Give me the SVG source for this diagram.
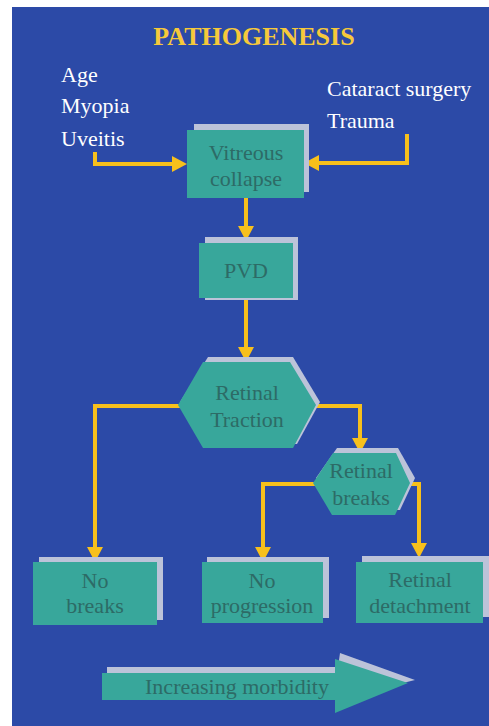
<svg xmlns="http://www.w3.org/2000/svg" width="489" height="726" viewBox="0 0 489 726">
<defs>
<style>
.bg{fill:#2c4aa7}
.sh{fill:#bcc3d9}
.box{fill:#38a79b}
.t{font-family:'Liberation Serif','DejaVu Serif','Times New Roman',serif;font-size:22px;fill:#2d6b66;text-anchor:middle}
.w{font-family:'Liberation Serif','DejaVu Serif','Times New Roman',serif;font-size:22px;fill:#ffffff}
.title{font-family:'Liberation Serif','DejaVu Serif','Times New Roman',serif;font-size:26px;font-weight:bold;fill:#f6c93a;text-anchor:middle}
.c{fill:none;stroke:#f7c01c;stroke-width:4}
</style>
<marker id="ah" markerUnits="userSpaceOnUse" markerWidth="16" markerHeight="16" refX="5" refY="8" orient="auto">
<path d="M0,0 L15,8 L0,16 z" fill="#f7c01c"/>
</marker>
</defs>
<rect width="489" height="726" fill="#ffffff"/>
<rect class="bg" x="12" y="7" width="477" height="719"/>
<text class="title" x="254" y="45">PATHOGENESIS</text>
<g id="causes-left">
<text class="w" x="61" y="82">Age</text>
<text class="w" x="61" y="113">Myopia</text>
<text class="w" x="61" y="146">Uveitis</text>
</g>
<g id="causes-right">
<text class="w" x="327" y="96">Cataract surgery</text>
<text class="w" x="327" y="128">Trauma</text>
</g>
<g id="connectors">
<path class="c" d="M95,152 V164 H177" marker-end="url(#ah)"/>
<path class="c" d="M407,134 V163 H314" marker-end="url(#ah)"/>
<path class="c" d="M246,198 V231" marker-end="url(#ah)"/>
<path class="c" d="M246,298 V352" marker-end="url(#ah)"/>
<path class="c" d="M180,406 H95 V552" marker-end="url(#ah)"/>
<path class="c" d="M314,406 H360 V443" marker-end="url(#ah)"/>
<path class="c" d="M315,484 H263 V552" marker-end="url(#ah)"/>
<path class="c" d="M408,484 H419 V548" marker-end="url(#ah)"/>
</g>
<g id="vitreous-collapse">
<rect class="sh" x="194" y="124" width="115" height="68"/>
<rect class="box" x="187" y="130" width="117" height="68"/>
<text class="t" x="246" y="160">Vitreous</text>
<text class="t" x="246" y="186">collapse</text>
</g>
<g id="pvd">
<rect class="sh" x="205" y="237" width="93" height="63"/>
<rect class="box" x="199" y="243" width="94" height="55"/>
<text class="t" x="246" y="278">PVD</text>
</g>
<g id="retinal-traction">
<polygon class="sh" points="208,357 293,357 320,402 297,444 203,444 180,402"/>
<polygon class="box" points="203,362 290,362 316,405 293,448 203,448 178,405"/>
<text class="t" x="247" y="400">Retinal</text>
<text class="t" x="247" y="427">Traction</text>
</g>
<g id="retinal-breaks">
<polygon class="sh" points="337,448 398,448 415,478 400,510 335,510 316,478"/>
<polygon class="box" points="333,453 396,453 410,483 395,515 332,515 313,483"/>
<text class="t" x="361" y="478">Retinal</text>
<text class="t" x="361" y="505">breaks</text>
</g>
<g id="no-breaks">
<rect class="sh" x="39" y="557" width="124" height="63"/>
<rect class="box" x="33" y="562" width="124" height="63"/>
<text class="t" x="95" y="588">No</text>
<text class="t" x="95" y="613">breaks</text>
</g>
<g id="no-progression">
<rect class="sh" x="207" y="557" width="122" height="61"/>
<rect class="box" x="202" y="562" width="121" height="61"/>
<text class="t" x="262" y="588">No</text>
<text class="t" x="262" y="613">progression</text>
</g>
<g id="retinal-detachment">
<rect class="sh" x="362" y="556" width="127" height="61"/>
<rect class="box" x="356" y="562" width="127" height="61"/>
<text class="t" x="420" y="587">Retinal</text>
<text class="t" x="420" y="613">detachment</text>
</g>
<g id="increasing-morbidity">
<polygon class="sh" points="107,667 338,667 340,653 415,680 335,700 107,700"/>
<polygon class="box" points="102,673 335,673 335,659 408,683 335,713 335,700 102,700"/>
<text class="t" x="237" y="694">Increasing morbidity</text>
</g>
</svg>
